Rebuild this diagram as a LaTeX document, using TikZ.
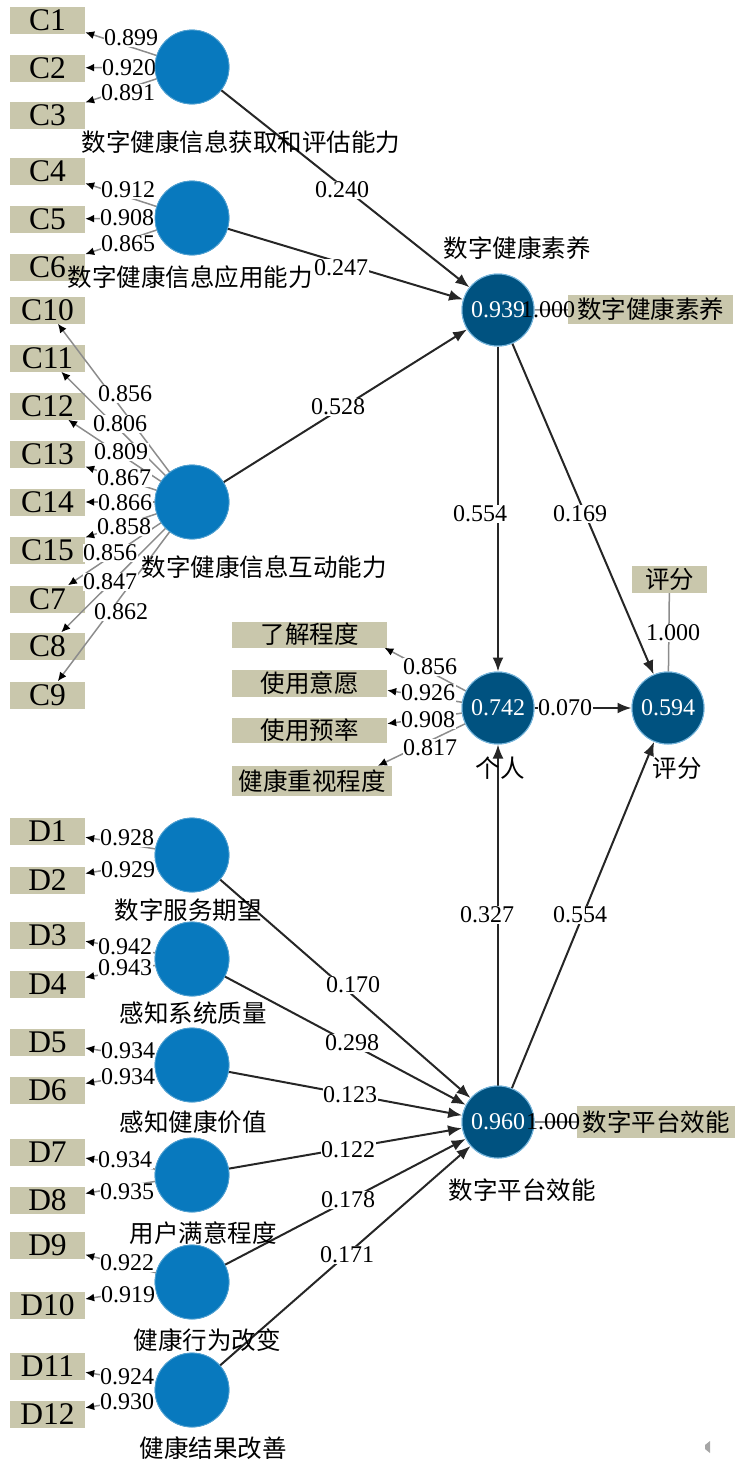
\documentclass[tikz,border=0pt]{standalone}
\usepackage{fontspec}
\setmainfont{Liberation Serif}
\newfontfamily\cjk{Noto Sans CJK SC}
\usetikzlibrary{arrows.meta}
\definecolor{lvc}{RGB}{8,121,190}
\definecolor{dvc}{RGB}{0,82,128}
\definecolor{indc}{RGB}{201,199,172}
\definecolor{lgc}{RGB}{140,140,140}
\newcommand\numfont{\fontsize{24}{26}\selectfont}
\newcommand\boxfont{\fontsize{31.5}{32}\selectfont}
\newcommand\cjkfont{\cjk\fontsize{24.5}{26}\selectfont}
\tikzset{
 lvnode/.style={circle, fill=lvc, draw=lvc!70!white, line width=0.8pt, minimum size=74pt, inner sep=0pt},
 dvnode/.style={circle, fill=dvc, draw=lvc!55!white, line width=1pt, minimum size=72pt, inner sep=0pt, text=white, font=\numfont},
 cbox/.style={rectangle, fill=indc, minimum width=75pt, minimum height=27pt, inner sep=0pt, font=\boxfont},
 cjkbox/.style={rectangle, fill=indc, inner sep=0pt, font=\cjkfont},
 lbl/.style={font=\cjkfont, inner sep=0pt},
 coef/.style={font=\numfont, fill=white, inner sep=0.5pt},
 plain/.style={font=\numfont, inner sep=0pt},
 pathline/.style={draw=black!85, line width=2pt, -{Latex[length=14pt,width=11pt]}},
 loadline/.style={draw=lgc, line width=1.5pt, -{Latex[length=9pt,width=8pt,color=black]}},
 greyline/.style={draw=lgc, line width=1.5pt},
}
\begin{document}
\begin{tikzpicture}[x=1pt,y=-1pt]
\useasboundingbox (0,0) rectangle (741,1465);

% ---------- indicator boxes ----------
\foreach \n/\y in {C1/20,C2/68,C3/115,C4/171,C5/219,C6/267,C10/310,C11/358,C12/406,C13/454,C14/502,C15/550,C7/599,C8/646,C9/695,
  D1/831,D2/880,D3/935,D4/984,D5/1042,D6/1090,D7/1152,D8/1200,D9/1245,D10/1305,D11/1366,D12/1414}
  \node[cbox] (\n) at (47.5,\y) {\n};

\node[cjkbox, minimum width=165pt, minimum height=29pt] (SKb) at (650.5,309.5) {数字健康素养};
\node[cjkbox, minimum width=75pt, minimum height=27pt] (PFb) at (669.5,579.5) {评分};
\node[cjkbox, minimum width=158pt, minimum height=32pt] (PTb) at (656,1122) {数字平台效能};
\node[cjkbox, minimum width=155pt, minimum height=26pt] (LJ) at (309.5,634.5) {了解程度};
\node[cjkbox, minimum width=155pt, minimum height=27pt] (SY) at (309.5,683.5) {使用意愿};
\node[cjkbox, minimum width=155pt, minimum height=25pt] (YL) at (309.5,730.5) {使用预率};
\node[cjkbox, minimum width=160pt, minimum height=30pt] (ZS) at (312,781) {健康重视程度};

% ---------- latent variables (for lines) ----------
\path (192,67) node[lvnode] (L1) {};
\path (192,218) node[lvnode] (L2) {};
\path (192,502) node[lvnode] (L3) {};
\path (192,855) node[lvnode] (M1) {};
\path (192,959) node[lvnode] (M2) {};
\path (192,1065) node[lvnode] (M3) {};
\path (192,1175) node[lvnode] (M4) {};
\path (192,1282) node[lvnode] (M5) {};
\path (192,1390) node[lvnode] (M6) {};
\path (498,310) node[dvnode] (SK) {};
\path (498,708) node[dvnode] (GR) {};
\path (668,708) node[dvnode] (PF) {};
\path (498,1122) node[dvnode] (PT) {};

% ---------- loading lines ----------
\foreach \a/\b in {L1/C1,L1/C2,L1/C3,L2/C4,L2/C5,L2/C6,
  L3/C10,L3/C11,L3/C12,L3/C13,L3/C14,L3/C15,L3/C7,L3/C8,L3/C9,
  M1/D1,M1/D2,M2/D3,M2/D4,M3/D5,M3/D6,M4/D7,M4/D8,M5/D9,M5/D10,M6/D11,M6/D12}
  \draw[loadline] (\a) -- (\b);
\draw[loadline] (GR) -- (LJ.-10);
\draw[loadline] (GR) -- (SY.-5);
\draw[loadline] (GR) -- (YL.5);
\draw[loadline] (GR) -- (ZS.13);
\draw[greyline] (PFb) -- (PF);
\draw[greyline] (SK) -- (SKb);
\draw[greyline] (PT) -- (PTb);

% ---------- structural paths ----------
\draw[pathline] (L1) -- (SK);
\draw[pathline] (L2) -- (SK);
\draw[pathline] (L3) -- (SK);
\draw[pathline] (SK) -- (GR);
\draw[pathline] (SK) -- (PF);
\draw[pathline] (GR) -- (PF);
\draw[pathline] (PT) -- (GR);
\draw[pathline] (PT) -- (PF);
\foreach \m in {M1,M2,M3,M4,M5,M6}
  \draw[pathline] (\m) -- (PT);

% ---------- loading labels ----------
\foreach \t/\x/\y in {0.899/131/38,0.920/129/68,0.891/128/93,0.912/128/190,0.908/127/218,0.865/128/244,
  0.856/125/394,0.806/120/424,0.809/121/452,0.867/124/478,0.866/125/503,0.858/124/527,0.856/110/553,0.847/110/582,0.862/121/612,
  0.928/127/838,0.929/128/870,0.942/125/947,0.943/125/968,0.934/128/1051,0.934/128/1077,
  0.934/125/1160,0.935/127/1192,0.922/127/1263,0.919/128/1295,0.924/127/1377,0.930/127/1402,
  0.856/430/667,0.926/428/693,0.908/428/720,0.817/430/748}
  \node[coef] at (\x,\y) {\t};

% ---------- path coefficient labels ----------
\foreach \t/\x/\y in {0.240/342/190,0.247/341/268,0.528/338/407,0.554/480/514,0.169/580/514,0.070/565/708,
  1.000/673/633,0.327/487/915,0.554/580/915,0.170/353/985,0.298/352/1043,0.123/350/1095,
  0.122/348/1150,0.178/348/1200,0.171/347/1255}
  \node[coef] at (\x,\y) {\t};

% ---------- circles redrawn on top ----------
\foreach \x/\y in {192/67,192/218,192/502,192/855,192/959,192/1065,192/1175,192/1282,192/1390}
  \node[lvnode] at (\x,\y) {};
\node[dvnode] at (498,310) {0.939};
\node[dvnode] at (498,708) {0.742};
\node[dvnode] at (668,708) {0.594};
\node[dvnode] at (498,1122) {0.960};
\node[plain] at (548,310) {1.000};
\node[plain] at (553,1122) {1.000};

% ---------- latent names ----------
\node[lbl] at (241,142) {数字健康信息获取和评估能力};
\node[lbl] at (190,277) {数字健康信息应用能力};
\node[lbl] at (264,567) {数字健康信息互动能力};
\node[lbl] at (517,248) {数字健康素养};
\node[lbl] at (500,768) {个人};
\node[lbl] at (677,768) {评分};
\node[lbl] at (522,1190) {数字平台效能};
\node[lbl] at (188,910) {数字服务期望};
\node[lbl] at (193,1013) {感知系统质量};
\node[lbl] at (193,1122) {感知健康价值};
\node[lbl] at (203,1233) {用户满意程度};
\node[lbl] at (207,1340) {健康行为改变};
\node[lbl] at (213,1448) {健康结果改善};

% small mark bottom right
\fill[gray!70] (710,1441) -- (710,1453) -- (705,1449) -- (705,1445) -- cycle;
\end{tikzpicture}
\end{document}
